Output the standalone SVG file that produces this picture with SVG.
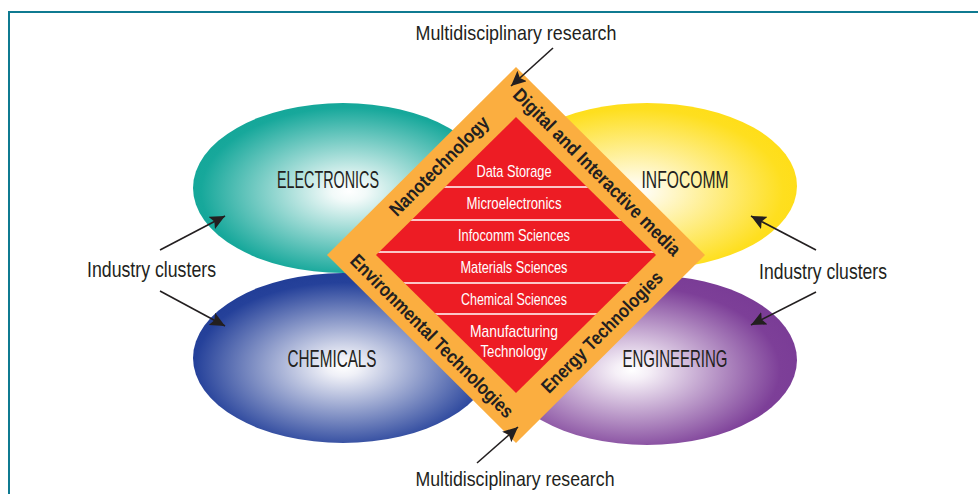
<svg xmlns="http://www.w3.org/2000/svg" width="978" height="494" viewBox="0 0 978 494">
<style>
.lbl{font-family:"Liberation Sans Narrow","Liberation Sans",Arial,sans-serif;fill:#231f20;}
.big{font-size:21px;}
.cl{font-size:24px;}
.ind{font-size:22px;}
.sci{font-family:"Liberation Sans Narrow","Liberation Sans",Arial,sans-serif;fill:#ffffff;font-size:17px;}
.band{font-family:"Liberation Sans Narrow","Liberation Sans",Arial,sans-serif;fill:#231f20;font-size:19px;font-weight:bold;text-anchor:middle;}
.arr{stroke:#231f20;stroke-width:1.6;fill:none;marker-end:url(#ah);}
.sep{stroke:#ffffff;stroke-width:1.6;}
</style>
<defs>
<marker id="ah" markerUnits="userSpaceOnUse" markerWidth="16" markerHeight="14" viewBox="0 0 16 14" refX="15" refY="7" orient="auto">
<path d="M0,0 L15,7 L0,14 L3,7 Z" fill="#231f20"/>
</marker>
<radialGradient id="gTeal" cx="0.52" cy="0.52" r="0.58">
<stop offset="0" stop-color="#ffffff"/>
<stop offset="0.1" stop-color="#f2faf9"/>
<stop offset="0.85" stop-color="#17a89b"/>
<stop offset="1" stop-color="#12a596"/>
</radialGradient>
<radialGradient id="gYel" cx="0.46" cy="0.53" r="0.58">
<stop offset="0" stop-color="#ffffff"/>
<stop offset="0.1" stop-color="#fffbe8"/>
<stop offset="0.85" stop-color="#fedf1f"/>
<stop offset="1" stop-color="#ffdd15"/>
</radialGradient>
<radialGradient id="gBlue" cx="0.5" cy="0.55" r="0.58">
<stop offset="0" stop-color="#ffffff"/>
<stop offset="0.1" stop-color="#eff0f7"/>
<stop offset="0.85" stop-color="#25419a"/>
<stop offset="1" stop-color="#203c95"/>
</radialGradient>
<radialGradient id="gPur" cx="0.45" cy="0.56" r="0.58">
<stop offset="0" stop-color="#ffffff"/>
<stop offset="0.1" stop-color="#f5eff7"/>
<stop offset="0.85" stop-color="#7d3f98"/>
<stop offset="1" stop-color="#7a3c96"/>
</radialGradient>
<clipPath id="redClip"><polygon points="516,117 656,255 516,393 376,255"/></clipPath>
</defs>
<rect width="978" height="494" fill="#ffffff"/>
<path d="M9,600 L9,12 L1000,12" fill="none" stroke="#0f7a91" stroke-width="2"/>

<g id="electronics">
<ellipse cx="343" cy="188" rx="150" ry="85" fill="url(#gTeal)"/>
<text class="lbl cl" x="328" y="188" text-anchor="middle" textLength="102" lengthAdjust="spacingAndGlyphs">ELECTRONICS</text>
</g>
<g id="infocomm">
<ellipse cx="647" cy="186" rx="150" ry="83" fill="url(#gYel)"/>
<text class="lbl cl" x="685" y="188" text-anchor="middle" textLength="87" lengthAdjust="spacingAndGlyphs">INFOCOMM</text>
</g>
<g id="chemicals">
<ellipse cx="343" cy="358" rx="150" ry="85" fill="url(#gBlue)"/>
<text class="lbl cl" x="332" y="367" text-anchor="middle" textLength="89" lengthAdjust="spacingAndGlyphs">CHEMICALS</text>
</g>
<g id="engineering">
<ellipse cx="647" cy="360" rx="150" ry="85" fill="url(#gPur)"/>
<text class="lbl cl" x="675" y="367" text-anchor="middle" textLength="105" lengthAdjust="spacingAndGlyphs">ENGINEERING</text>
</g>

<g id="research-core">
<polygon points="516,67 705,255 516,443 327,255" fill="#fbae40"/>
<polygon points="516,117 656,255 516,393 376,255" fill="#ed1c24"/>
<g clip-path="url(#redClip)">
<line class="sep" x1="370" y1="187" x2="660" y2="187"/>
<line class="sep" x1="370" y1="220" x2="660" y2="220"/>
<line class="sep" x1="370" y1="252" x2="660" y2="252"/>
<line class="sep" x1="370" y1="283" x2="660" y2="283"/>
<line class="sep" x1="370" y1="314" x2="660" y2="314"/>
</g>
<text class="sci" x="514" y="177" text-anchor="middle" textLength="75" lengthAdjust="spacingAndGlyphs">Data Storage</text>
<text class="sci" x="514" y="209" text-anchor="middle" textLength="95" lengthAdjust="spacingAndGlyphs">Microelectronics</text>
<text class="sci" x="514" y="241" text-anchor="middle" textLength="112" lengthAdjust="spacingAndGlyphs">Infocomm Sciences</text>
<text class="sci" x="514" y="273" text-anchor="middle" textLength="107" lengthAdjust="spacingAndGlyphs">Materials Sciences</text>
<text class="sci" x="514" y="305" text-anchor="middle" textLength="106" lengthAdjust="spacingAndGlyphs">Chemical Sciences</text>
<text class="sci" x="514" y="337" text-anchor="middle" textLength="88" lengthAdjust="spacingAndGlyphs">Manufacturing</text>
<text class="sci" x="514" y="357" text-anchor="middle" textLength="67" lengthAdjust="spacingAndGlyphs">Technology</text>
</g>

<g id="band-digital">
<text class="band" transform="translate(597,172) rotate(45)" y="6.5" textLength="228" lengthAdjust="spacingAndGlyphs">Digital and Interactive media</text>
</g>
<g id="band-nano">
<text class="band" transform="translate(439,166) rotate(-45)" y="6.5" textLength="132" lengthAdjust="spacingAndGlyphs">Nanotechnology</text>
</g>
<g id="band-environmental">
<text class="band" transform="translate(432,336) rotate(45)" y="6.5" textLength="222" lengthAdjust="spacingAndGlyphs">Environmental Technologies</text>
</g>
<g id="band-energy">
<text class="band" transform="translate(602,332) rotate(-45)" y="6.5" textLength="163" lengthAdjust="spacingAndGlyphs">Energy Technologies</text>
</g>

<g id="label-research-top">
<text class="lbl big" x="516" y="40" text-anchor="middle" textLength="201" lengthAdjust="spacingAndGlyphs">Multidisciplinary research</text>
</g>
<g id="label-research-bottom">
<text class="lbl big" x="515" y="486" text-anchor="middle" textLength="199" lengthAdjust="spacingAndGlyphs">Multidisciplinary research</text>
</g>
<g id="label-industry-left">
<text class="lbl ind" x="87" y="277" textLength="129" lengthAdjust="spacingAndGlyphs">Industry clusters</text>
</g>
<g id="label-industry-right">
<text class="lbl ind" x="759" y="279" textLength="128" lengthAdjust="spacingAndGlyphs">Industry clusters</text>
</g>

<g id="connectors">
<line class="arr" x1="553" y1="48" x2="511" y2="86"/>
<line class="arr" x1="477" y1="463" x2="518" y2="427"/>
<line class="arr" x1="160" y1="250" x2="225" y2="216"/>
<line class="arr" x1="160" y1="291" x2="225" y2="326"/>
<line class="arr" x1="816" y1="250" x2="751" y2="216"/>
<line class="arr" x1="816" y1="292" x2="751" y2="325"/>
</g>
</svg>
